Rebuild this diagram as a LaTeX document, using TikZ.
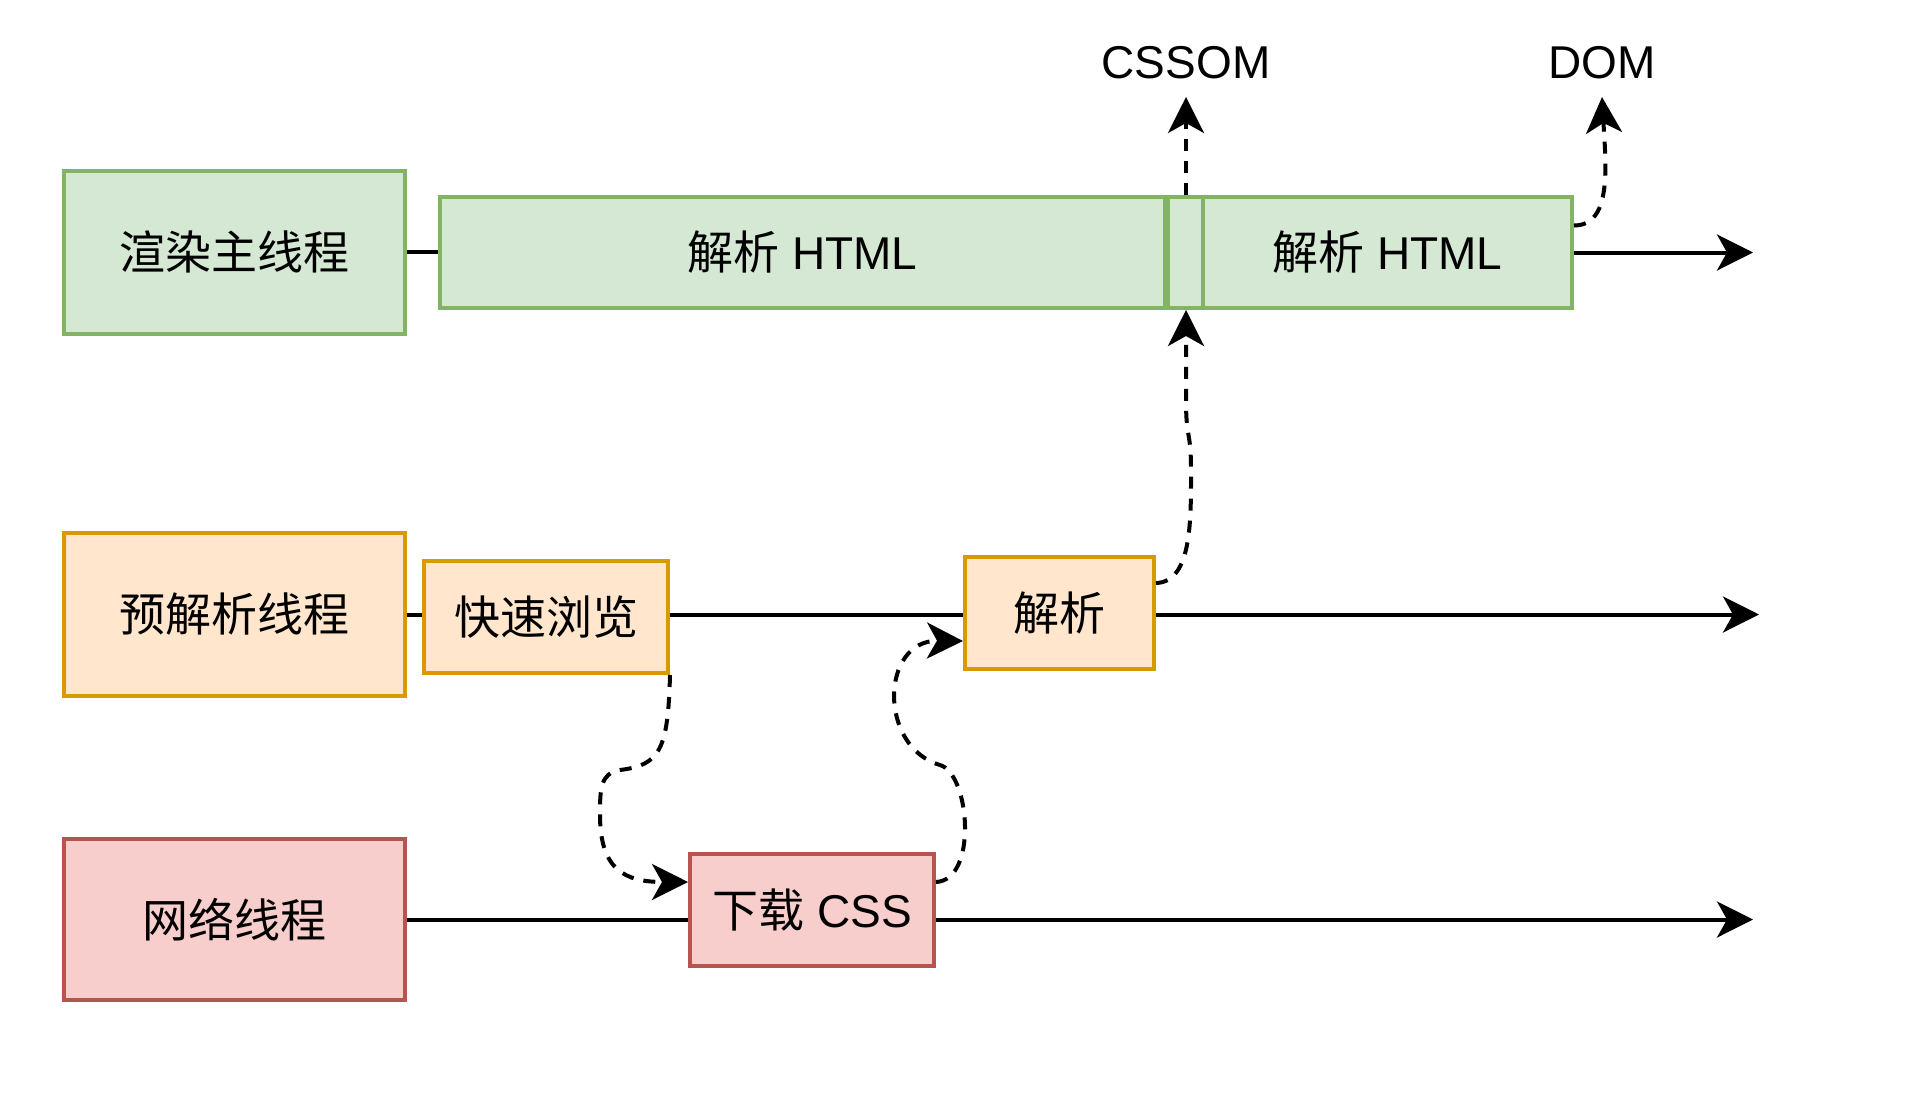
\documentclass[tikz,border=0pt]{standalone}
\usepackage{fontspec}
\setmainfont{Liberation Sans}
\newfontfamily\cjk{Noto Sans CJK SC}
\usetikzlibrary{arrows.meta}
\definecolor{gfill}{HTML}{D5E8D4}
\definecolor{gline}{HTML}{82B366}
\definecolor{ofill}{HTML}{FFE6CC}
\definecolor{oline}{HTML}{D79B00}
\definecolor{rfill}{HTML}{F8CECC}
\definecolor{rline}{HTML}{B85450}
\tikzset{
  box/.style={draw, line width=2pt, inner sep=0pt, font=\fontsize{23}{27}\selectfont},
  gbox/.style={box, fill=gfill, draw=gline},
  obox/.style={box, fill=ofill, draw=oline},
  rbox/.style={box, fill=rfill, draw=rline},
  lbl/.style={inner sep=0pt, outer sep=0pt, font=\fontsize{23}{27}\selectfont},
  wire/.style={line width=2pt},
  arr/.style={line width=2pt, -{Stealth[length=18pt,width=18pt,inset=5pt]}},
  dashline/.style={dash pattern=on 6pt off 5pt}
}
\begin{document}
\begin{tikzpicture}[x=0.5pt,y=-0.5pt]
\useasboundingbox (0,0) rectangle (1932,1108);
% row 1
\node[gbox, minimum width=170.5pt, minimum height=81.5pt] (main) at (234.5,252) {\cjk 渲染主线程};
\node[gbox, minimum width=362.5pt, minimum height=55.5pt] (html1) at (802.5,252.5) {{\cjk 解析} HTML};
\node[gbox, minimum width=18pt, minimum height=55.5pt] (mid) at (1186,252.5) {};
\node[gbox, minimum width=184.5pt, minimum height=55.5pt] (html2) at (1387.5,252.5) {{\cjk 解析} HTML};
\coordinate (e1) at (1753,252.5);
\node[lbl, anchor=base] (cssom) at (1186,78) {CSSOM};
\node[lbl, anchor=base] (dom) at (1602,78) {DOM};
\draw[wire] (main.east) -- (main.east -| html1.west);
\draw[arr] (html2.east) -- (e1);
\draw[arr, dashline] (mid.north) -- ([yshift=-9.5pt]cssom.base);
\draw[arr, dashline] ([yshift=13.5pt]html2.east) .. controls +(38,0) and +(4,70) .. ([yshift=-9.5pt]dom.base);
% row 2
\node[obox, minimum width=170.5pt, minimum height=81.5pt] (pre) at (234.5,614.5) {\cjk 预解析线程};
\node[obox, minimum width=122pt, minimum height=56pt] (quick) at (546,617) {\cjk 快速浏览};
\node[obox, minimum width=94.5pt, minimum height=56pt] (parse) at (1059.5,613) {\cjk 解析};
\coordinate (e2) at (1759,614.5);
\draw[wire] (pre.east) -- (pre.east -| quick.west);
\draw[wire] (quick.east |- pre.east) -- (pre.east -| parse.west);
\draw[arr] (parse.east |- pre.east) -- (e2);
% row 3
\node[rbox, minimum width=170.5pt, minimum height=80.5pt] (net) at (234.5,919.5) {\cjk 网络线程};
\node[rbox, minimum width=122pt, minimum height=56pt] (dl) at (812,910) {{\cjk 下载} CSS};
\coordinate (e3) at (1753,919.5);
\draw[wire] (net.east) -- (net.east -| dl.west);
\draw[arr] (dl.east |- net.east) -- (e3);
% dashed connectors
\draw[arr, dashline] (quick.south east) .. controls (668,750) and (660,765) .. (620,770)
  .. controls (600,773) and (600,790) .. (600,815)
  .. controls (600,870) and (625,882) .. ([yshift=14pt]dl.west);
\draw[arr, dashline] ([yshift=14pt]dl.east) .. controls (978,880) and (970,774) .. (940,765)
  .. controls (878,747) and (880,640) .. ([yshift=-14pt]parse.west);
\draw[arr, dashline] ([yshift=15pt]parse.east) .. controls (1192,582) and (1191,520) .. (1191,470)
  .. controls (1191,430) and (1186,440) .. ([yshift=-45pt]mid.south) -- (mid.south);
\end{tikzpicture}
\end{document}
